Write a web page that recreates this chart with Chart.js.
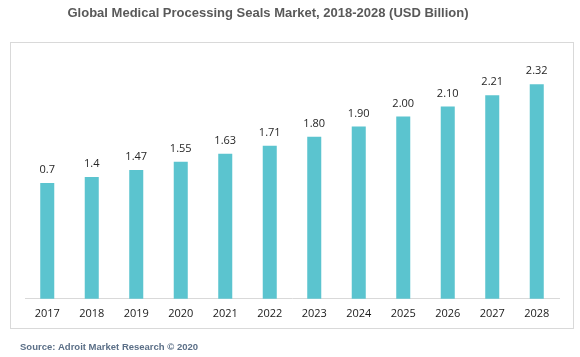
<!DOCTYPE html>
<html>
<head>
<meta charset="utf-8">
<script src="https://cdn.jsdelivr.net/npm/chart.js@4"></script>
<style>
html,body{margin:0;padding:0;background:#fff;}
#wrap{width:580px;height:357px;position:relative;}
</style>
</head>
<body>
<div id="wrap"><canvas id="c" width="580" height="357"></canvas></div>
<script>
const categories = ['2017','2018','2019','2020','2021','2022','2023','2024','2025','2026','2027','2028'];
// bar heights as drawn in the picture
const values = [1.34, 1.40, 1.47, 1.55, 1.63, 1.71, 1.80, 1.90, 2.00, 2.10, 2.21, 2.32];
// value labels as printed above the bars
const valueLabels = ['0.7','1.4','1.47','1.55','1.63','1.71','1.80','1.90','2.00','2.10','2.21','2.32'];
const titleText = 'Global Medical Processing Seals Market, 2018-2028 (USD Billion)';
const sourceText = 'Source: Adroit Market Research \u00A9 2020';

const decor = {
  id: 'decor',
  beforeDraw(chart) {
    const ctx = chart.ctx;
    ctx.save();
    ctx.fillStyle = '#fff';
    ctx.fillRect(0, 0, chart.width, chart.height);
    ctx.strokeStyle = '#d9d9d9';
    ctx.lineWidth = 1;
    ctx.strokeRect(10.5, 42.5, 563, 286);
    ctx.restore();
  },
  afterDraw(chart) {
    const ctx = chart.ctx;
    ctx.save();
    ctx.fillStyle = '#595959';
    ctx.font = 'bold 13px "Liberation Sans", Arial, sans-serif';
    ctx.textAlign = 'center';
    ctx.textBaseline = 'middle';
    ctx.fillText(titleText, 268, 13);
    ctx.fillStyle = '#5b6f87';
    ctx.font = 'bold 9.5px "Liberation Sans", Arial, sans-serif';
    ctx.textAlign = 'left';
    ctx.fillText(sourceText, 20, 347);
    const meta = chart.getDatasetMeta(0);
    ctx.fillStyle = '#262626';
    ctx.font = '11px "Open Sans", sans-serif';
    ctx.textAlign = 'center';
    meta.data.forEach((bar, i) => {
      ctx.fillText(valueLabels[i], bar.x, bar.y - 13);
    });
    ctx.restore();
  }
};

new Chart(document.getElementById('c'), {
  type: 'bar',
  data: {
    labels: categories,
    datasets: [{
      data: values,
      backgroundColor: '#5bc4cf',
      categoryPercentage: 1,
      barPercentage: 0.315
    }]
  },
  options: {
    responsive: false,
    animation: false,
    layout: { padding: { left: 25, right: 21, top: 46, bottom: 29 } },
    plugins: { legend: { display: false }, tooltip: { enabled: false }, title: { display: false } },
    scales: {
      x: {
        grid: { display: false, drawTicks: false },
        border: { display: true, color: '#d9d9d9', width: 1 },
        ticks: { color: '#1a1a1a', font: { family: '"Open Sans", sans-serif', size: 11 }, padding: 8, maxRotation: 0 }
      },
      y: {
        display: false,
        min: 0.19,
        max: 2.7
      }
    }
  },
  plugins: [decor]
});
</script>
</body>
</html>
